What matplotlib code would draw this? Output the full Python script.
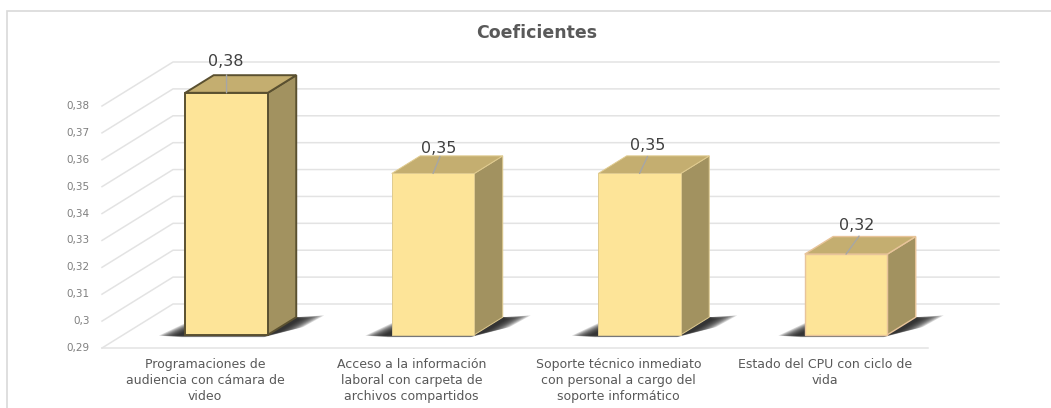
import numpy as np
from matplotlib import pyplot as plt
from matplotlib.patches import Polygon, Rectangle

plt.rcParams["font.family"] = ["DejaVu Sans"]

categories = [
    "Programaciones de\naudiencia con cámara de\nvideo",
    "Acceso a la información\nlaboral con carpeta de\narchivos compartidos",
    "Soporte técnico inmediato\ncon personal a cargo del\nsoporte informático",
    "Estado del CPU con ciclo de\nvida",
]
values = [0.38, 0.35, 0.35, 0.32]
labels = ["0,38", "0,35", "0,35", "0,32"]
ticks = [0.29, 0.30, 0.31, 0.32, 0.33, 0.34, 0.35, 0.36, 0.37, 0.38]
tick_labels = ["0,29", "0,3", "0,31", "0,32", "0,33", "0,34", "0,35", "0,36", "0,37", "0,38"]

W, H = 1051, 408
fig = plt.figure(figsize=(W / 100, H / 100), dpi=100)
# axes = front plane of the 3d box, in pixels from the reference
ax = fig.add_axes([102 / W, (H - 348) / H, 826 / W, 242 / H])
ax.set_xlim(-0.5, 3.5)
ax.set_ylim(0.29, 0.38)
ax.axis("off")

# depth of the box in data units
DX = 71 / 206.5
DY = 44 / 242 * 0.09
BAR_W = 0.4
D0, D1 = 0.3, 0.7


def p(x, y, d=0.0):
    return (x + DX * d, y + DY * d)


fig.add_artist(Rectangle((7 / W, -0.05), 1200 / W, (H - 11) / H + 0.05, fill=False,
                         edgecolor="#d9d9d9", linewidth=1.2, transform=fig.transFigure))

# walls
for t in ticks:
    ax.plot(*zip(p(-0.5, t, 0), p(-0.5, t, 1), p(3.5, t, 1)), color="#e3e3e3", lw=1.1, clip_on=False, zorder=1)
ax.plot(*zip(p(-0.5, 0.29), p(3.5, 0.29)), color="#e3e3e3", lw=1.1, clip_on=False, zorder=1)

for t, lab in zip(ticks, tick_labels):
    ax.annotate(lab, (-0.5, t), xytext=(-12, 0), textcoords="offset pixels", ha="right", va="center",
                fontsize=7.5, color="#7f7f7f", annotation_clip=False)

edge_colors = ["#5a5030", "#e0cb90", "#e0cb90", "#e8c49a"]
edge_widths = [1.4, 0.7, 0.7, 1.0]
leader_ends = [(0, 18), (7, 17), (8, 17), (13, 18)]
label_offsets = [(-1, 31), (6, 25), (8, 28), (11, 29)]
for i, v in enumerate(values):
    l, r = i - BAR_W / 2, i + BAR_W / 2
    b = 0.29
    ec = edge_colors[i]
    lw = edge_widths[i]

    # soft shadow on the floor, stacked see-through layers
    for s in np.linspace(1.1, 0.3, 12):
        left_tip = p(l - 0.11 * s, b, D0 - 0.02)
        left_top = p(l - DX * 0.24 * s, b, D0 + 0.24 * s)
        right_tip = p(r + 0.11 * s, b, D0 + 0.43 - 0.12 * (1 - s))
        right_low = p(r + 0.1 * s, b, D0 + 0.16 * s)
        ax.add_patch(Polygon([left_tip, left_top, p(l, b, D1), p(r, b, D1), right_tip, right_low,
                              p(r, b, D0 - 0.05 * s), p(l, b, D0 - 0.05 * s)],
                             closed=True, facecolor="#1a1a1a", edgecolor="none", alpha=0.16, clip_on=False, zorder=2))

    ax.add_patch(Polygon([p(r, b, D0), p(r, b, D1), p(r, v, D1), p(r, v, D0)], closed=True,
                         facecolor="#a29260", edgecolor=ec, lw=lw, clip_on=False, zorder=3))
    ax.add_patch(Polygon([p(l, v, D0), p(r, v, D0), p(r, v, D1), p(l, v, D1)], closed=True,
                         facecolor="#c4ae70", edgecolor=ec, lw=lw, clip_on=False, zorder=3))
    ax.add_patch(Polygon([p(l, b, D0), p(r, b, D0), p(r, v, D0), p(l, v, D0)], closed=True,
                         facecolor="#fde498", edgecolor=ec, lw=lw, clip_on=False, zorder=4))

    # leader line and data label
    cx, cy = p(i, v, D0)
    ax.annotate(labels[i], (cx, cy), xytext=label_offsets[i], textcoords="offset pixels", ha="center", va="center",
                fontsize=11.5, color="#404040", annotation_clip=False, zorder=6)
    ax.annotate("", (cx, cy), xytext=leader_ends[i], textcoords="offset pixels",
                arrowprops=dict(arrowstyle="-", color="#a6a6a6", lw=1, shrinkA=0, shrinkB=0),
                annotation_clip=False, zorder=6)

    ax.annotate(categories[i], (i, 0.29), xytext=(0, -10), textcoords="offset pixels", ha="center", va="top",
                fontsize=9, color="#595959", linespacing=1.3, annotation_clip=False)

fig.text(537 / W, 1 - 33 / H, "Coeficientes", ha="center", va="center", fontsize=12.5, fontweight="bold", color="#595959")

fig.savefig("out.png", dpi=100)
